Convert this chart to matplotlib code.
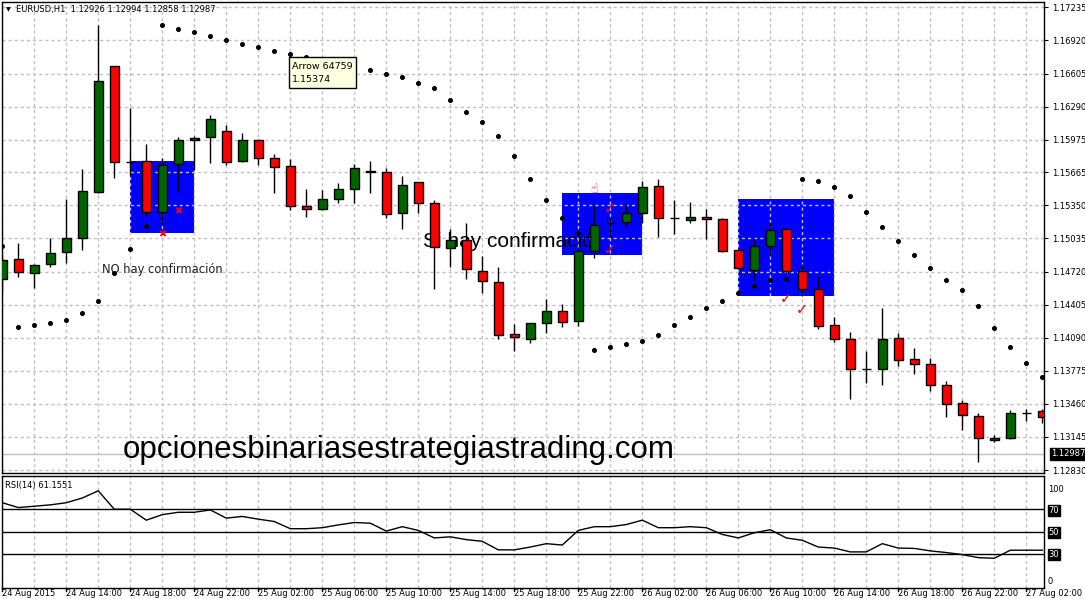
import matplotlib
matplotlib.use("Agg")
import matplotlib.pyplot as plt
import matplotlib.transforms as mtransforms
from matplotlib.patches import Rectangle
import numpy as np

plt.rcParams['font.family'] = ['DejaVu Sans']

# ---------------- data ----------------
opens = [1.14646, 1.14839, 1.14703, 1.14789, 1.14903, 1.15036, 1.15474, 1.16674, 1.15766, 1.15769,
         1.15284, 1.15741, 1.15969, 1.15998, 1.16055, 1.15775, 1.15969, 1.15798, 1.15722, 1.15347,
         1.15312, 1.15408, 1.15503, 1.15680, 1.15665, 1.15274, 1.15570, 1.15370, 1.14941, 1.15020,
         1.14722, 1.14618, 1.14122, 1.14081, 1.14227, 1.14341, 1.14246, 1.14913, 1.15179, 1.15189,
         1.15274, 1.15534, 1.15227, 1.15208, 1.15236, 1.15217, 1.14922, 1.14732, 1.14960, 1.15122,
         1.14722, 1.14551, 1.14208, 1.14075, 1.13789, 1.13790, 1.14084, 1.13884, 1.13837, 1.13637,
         1.13466, 1.13342, 1.13113, 1.13132, 1.13376, 1.13389]
highs = [1.14868, 1.14994, 1.14790, 1.15036, 1.15408, 1.15693, 1.17067, 1.16680, 1.16280, 1.15934,
         1.15804, 1.16001, 1.16010, 1.16210, 1.16115, 1.16036, 1.15978, 1.15839, 1.15791, 1.15506,
         1.15496, 1.15566, 1.15744, 1.15772, 1.15703, 1.15629, 1.15575, 1.15401, 1.15122, 1.15185,
         1.14868, 1.14766, 1.14223, 1.14230, 1.14459, 1.14408, 1.14935, 1.15360, 1.15232, 1.15363,
         1.15582, 1.15601, 1.15401, 1.15379, 1.15312, 1.15230, 1.14925, 1.15036, 1.15194, 1.15125,
         1.14792, 1.14677, 1.14287, 1.14141, 1.13963, 1.14370, 1.14138, 1.13989, 1.13897, 1.13678,
         1.13494, 1.13370, 1.13161, 1.13402, 1.13409, 1.13409]
lows = [1.14513, 1.14665, 1.14560, 1.14766, 1.14798, 1.14925, 1.15470, 1.15613, 1.15639, 1.15252,
        1.15173, 1.15480, 1.15687, 1.15756, 1.15734, 1.15766, 1.15734, 1.15471, 1.15306, 1.15242,
        1.15305, 1.15375, 1.15375, 1.15465, 1.15232, 1.15128, 1.15274, 1.14551, 1.14766, 1.14646,
        1.14518, 1.14081, 1.13966, 1.14037, 1.14132, 1.14189, 1.14204, 1.14846, 1.15052, 1.15147,
        1.15179, 1.15052, 1.15074, 1.15185, 1.15027, 1.14909, 1.14745, 1.14639, 1.14887, 1.14703,
        1.14487, 1.14170, 1.14052, 1.13509, 1.13656, 1.13637, 1.13824, 1.13745, 1.13586, 1.13338,
        1.13211, 1.12907, 1.13094, 1.13123, 1.13300, 1.13281]
closes = [1.14830, 1.14713, 1.14779, 1.14894, 1.15036, 1.15484, 1.16531, 1.15760, 1.15764, 1.15284,
          1.15731, 1.15969, 1.15988, 1.16169, 1.15766, 1.15969, 1.15798, 1.15718, 1.15347, 1.15312,
          1.15408, 1.15503, 1.15703, 1.15665, 1.15265, 1.15541, 1.15370, 1.14951, 1.15020, 1.14741,
          1.14627, 1.14113, 1.14097, 1.14227, 1.14341, 1.14237, 1.14913, 1.15160, 1.15181, 1.15274,
          1.15522, 1.15227, 1.15228, 1.15236, 1.15217, 1.14920, 1.14756, 1.14960, 1.15113, 1.14722,
          1.14551, 1.14199, 1.14075, 1.13789, 1.13790, 1.14075, 1.13875, 1.13837, 1.13637, 1.13462,
          1.13351, 1.13132, 1.13132, 1.13370, 1.13377, 1.13332]
sar = [1.14966, 1.14195, 1.14214, 1.14233, 1.14259, 1.14325, 1.14440, 1.14706, 1.14935, 1.15153,
       1.17067, 1.17029, 1.17000, 1.16965, 1.16924, 1.16889, 1.16860, 1.16820, 1.16793, 1.16760,
       1.16729, 1.16700, 1.16667, 1.16639, 1.16600, 1.16572, 1.16515, 1.16467, 1.16353, 1.16239,
       1.16144, 1.16010, 1.15820, 1.15601, 1.15401, 1.15230, 1.15084, 1.13973, 1.14004, 1.14033,
       1.14059, 1.14119, 1.14211, 1.14290, 1.14376, 1.14442, 1.14516, 1.14582, 1.14640, 1.14649,
       1.15601, 1.15582, 1.15525, 1.15439, 1.15287, 1.15144, 1.15011, 1.14877, 1.14754, 1.14640,
       1.14544, 1.14392, 1.14182, 1.14002, 1.13849, 1.13716]
rsi = [75.8, 71.5, 72.7, 73.9, 75.8, 80.0, 86.4, 70.0, 70.0, 60.3,
       65.2, 67.3, 67.3, 69.4, 62.1, 63.6, 61.2, 59.1, 52.7, 52.7,
       53.6, 56.1, 58.2, 57.6, 50.6, 54.5, 51.2, 44.5, 45.5, 43.0,
       41.5, 33.9, 33.9, 36.4, 39.4, 38.2, 51.2, 54.5, 54.5, 56.4,
       60.3, 53.6, 53.6, 54.5, 53.6, 47.6, 44.5, 49.1, 51.8, 44.5,
       42.4, 36.4, 35.5, 32.1, 32.1, 39.4, 35.5, 35.2, 33.0, 31.5,
       29.7, 27.0, 26.4, 33.6, 33.6, 33.6]
rsi_levels = [70, 50, 30]
time_labels = ['24 Aug 2015', '24 Aug 14:00', '24 Aug 18:00', '24 Aug 22:00', '25 Aug 02:00',
               '25 Aug 06:00', '25 Aug 10:00', '25 Aug 14:00', '25 Aug 18:00', '25 Aug 22:00',
               '26 Aug 02:00', '26 Aug 06:00', '26 Aug 10:00', '26 Aug 14:00', '26 Aug 18:00',
               '26 Aug 22:00', '27 Aug 02:00']
price_ticks = [1.17235, 1.16920, 1.16605, 1.16290, 1.15975, 1.15665, 1.15350, 1.15035,
               1.14720, 1.14405, 1.14090, 1.13775, 1.13460, 1.13145, 1.12830]
bid_price = 1.12987
# rectangles: (first bar, last bar, top price, bottom price)
box_start = [8, 35, 46]
box_end = [12, 40, 52]
box_top = [1.15769, 1.15468, 1.15411]
box_bottom = [1.15090, 1.14880, 1.14487]
check_x = [38, 38, 49, 50]
check_y = [1.15322, 1.14925, 1.14465, 1.14354]
cross_x = [10, 11]
cross_y = [1.15074, 1.15293]

# ---------------- figure ----------------
W, H = 1085, 599
fig = plt.figure(figsize=(W / 100, H / 100), dpi=100)
fig.patch.set_facecolor('white')


def fx(px):
    return px / W


def fy(py):
    return 1 - py / H


L, R = 1.7, 1044
ax = fig.add_axes([fx(L), fy(473), fx(R) - fx(L), fy(1.5) - fy(473)])
ax2 = fig.add_axes([fx(L), fy(588), fx(R) - fx(L), fy(475.5) - fy(588)])

n = len(opens)
x = np.arange(n)
xlim = (-0.0375, 65.106)
grid_kw = dict(color='#c0c0c0', lw=1, ls=(0, (2.2, 2.2)))

# main panel
ax.set_xlim(*xlim)
ax.set_ylim(1.12802, 1.17291)
for xi in range(0, n, 2):
    ax.axvline(xi, zorder=1.5, **grid_kw)
for p in price_ticks:
    ax.axhline(p, zorder=1.5, **grid_kw)

for s, e, t, b in zip(box_start, box_end, box_top, box_bottom):
    ax.add_patch(Rectangle((s, b), e - s, t - b, facecolor='#0000ff', edgecolor='none', zorder=1))

ax.axhline(bid_price, color='#c0c0c0', lw=1, zorder=1.6)

o = np.array(opens)
c = np.array(closes)
cols = ['#006400' if cc > oo else '#ff0000' for oo, cc in zip(o, c)]
ax.vlines(x, lows, highs, color='black', lw=1, zorder=2)
ax.bar(x, np.maximum(np.abs(c - o), 0.000012), bottom=np.minimum(o, c), width=0.58,
       color=cols, edgecolor='black', linewidth=1, zorder=3)
ax.plot(x, sar, 'o', color='black', ms=2.6, zorder=4, ls='none')

for xi, yi in zip(check_x, check_y):
    ax.text(xi, yi, '✓', color='red', fontsize=10.5, fontweight='bold', ha='center', va='center', zorder=5)
for xi, yi in zip(cross_x, cross_y):
    ax.text(xi, yi, '✖', color='red', fontsize=7, ha='center', va='center', zorder=5)
ax.text(37, 1.15503, '☝', color='red', fontsize=9, ha='center', va='center', zorder=5)

ax.text(6.25, 1.14739, 'NO hay confirmación', fontsize=8.3, color='#222222', va='center', zorder=2.5)
ax.text(26.3, 1.14956, 'Si hay confirmació', fontsize=15, family='Liberation Sans',
        va='baseline', zorder=2.5)
ax.text(7.5, 1.12945, 'opcionesbinariasestrategiastrading.com', fontsize=22.5,
        family='Liberation Sans', va='baseline', zorder=2.5)

ax.yaxis.tick_right()
ax.set_yticks(price_ticks)
ax.set_yticklabels([f'{p:.5f}' for p in price_ticks])
ax.tick_params(axis='y', labelsize=6, length=3, width=0.8, pad=2.5, colors='black')
ax.tick_params(axis='x', bottom=False, labelbottom=False)
for sp in ax.spines.values():
    sp.set_color('black')
    sp.set_linewidth(1)

# bid label
fig.text(fx(1051.3), fy(454), f'{bid_price:.5f}', color='white', fontsize=6, va='center',
         bbox=dict(facecolor='black', edgecolor='black', pad=1.2))

# header
fig.text(fx(6), fy(9.5), '▼', fontsize=4.5, va='center')
fig.text(fx(16.5), fy(9.5), 'EURUSD,H1  1.12926 1.12994 1.12858 1.12987', fontsize=6, va='center')

# tooltip
fig.patches.append(Rectangle((fx(289.3), fy(88.3)), fx(356) - fx(289.3), fy(57.3) - fy(88.3),
                             transform=fig.transFigure, facecolor='#ffffe1', edgecolor='black',
                             lw=1, zorder=5))
fig.text(fx(292), fy(66.7), 'Arrow 64759', fontsize=6.8, va='center', zorder=6)
fig.text(fx(292), fy(80), '1.15374', fontsize=6.8, va='center', zorder=6)

# RSI panel
ax2.set_xlim(*xlim)
ax2.set_ylim(0, 100)
for xi in range(0, n, 2):
    ax2.axvline(xi, zorder=1, **grid_kw)
for lv in rsi_levels:
    ax2.axhline(lv, color='black', lw=1, zorder=2)
ax2.plot(x, rsi, color='black', lw=1, zorder=3)
ax2.set_xticks([])
ax2.set_yticks([])
for sp in ax2.spines.values():
    sp.set_color('black')
    sp.set_linewidth(1)

fig.text(fx(5), fy(485.5), 'RSI(14) 61.1551', fontsize=6, va='center')
fig.text(fx(1048), fy(490), '100', fontsize=6, va='center')
fig.text(fx(1048), fy(582), '0', fontsize=6, va='center')
for lv in rsi_levels:
    ypx = 588 - 1.11 * lv
    fig.text(fx(1048.5), fy(ypx), str(lv), fontsize=6, va='center', color='white',
             bbox=dict(facecolor='black', edgecolor='black', pad=0.6))

trans = mtransforms.blended_transform_factory(ax2.transData, fig.transFigure)
for k, lab in zip(range(0, n, 4), time_labels):
    ax2.plot([k, k], [0, -3], color='black', lw=1, clip_on=False)
    ax2.text(k - 0.03, fy(589.5), lab, transform=trans, ha='left', va='top', fontsize=6)

fig.savefig('out.png', dpi=100)
